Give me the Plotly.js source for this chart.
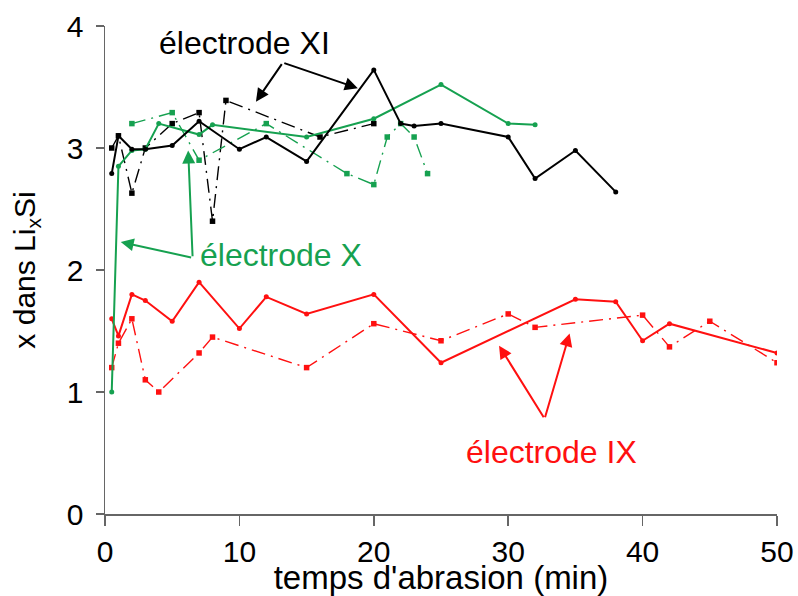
<!DOCTYPE html>
<html>
<head>
<meta charset="utf-8">
<script src="https://cdn.plot.ly/plotly-3.0.1.min.js"></script>
<style>html,body{margin:0;padding:0;background:#fff;}#chart{width:798px;height:596px;}</style>
</head>
<body>
<div id="chart"></div>
<script>
// Électrode XI (noir)
const xiSolidX = [0.5, 1, 2, 3, 5, 7, 10, 12, 15, 20, 22, 23, 25, 30, 32, 35, 38];
const xiSolidY = [2.79, 3.10, 2.99, 2.99, 3.02, 3.22, 2.99, 3.09, 2.89, 3.64, 3.20, 3.18, 3.20, 3.09, 2.75, 2.98, 2.64];
const xiDashX = [0.5, 1, 2, 3, 5, 7, 8, 9, 16, 20];
const xiDashY = [3.00, 3.10, 2.63, 3.00, 3.20, 3.29, 2.40, 3.39, 3.09, 3.20];
// Électrode X (vert)
const xSolidX = [0.5, 1, 2, 3, 4, 7, 8, 15, 20, 25, 30, 32];
const xSolidY = [1.00, 2.85, 2.98, 2.99, 3.20, 3.11, 3.19, 3.09, 3.24, 3.52, 3.20, 3.19];
const xDashX = [2, 5, 7, 12, 18, 20, 21, 22, 23, 24];
const xDashY = [3.20, 3.29, 2.90, 3.20, 2.79, 2.70, 3.09, 3.20, 3.09, 2.79];
// Électrode IX (rouge)
const ixSolidX = [0.5, 1, 2, 3, 5, 7, 10, 12, 15, 20, 25, 35, 38, 40, 42, 50];
const ixSolidY = [1.60, 1.46, 1.80, 1.75, 1.58, 1.90, 1.52, 1.78, 1.64, 1.80, 1.24, 1.76, 1.74, 1.42, 1.56, 1.32];
const ixDashX = [0.5, 1, 2, 3, 4, 7, 8, 15, 20, 25, 30, 32, 40, 42, 45, 50];
const ixDashY = [1.20, 1.40, 1.60, 1.10, 1.00, 1.32, 1.45, 1.20, 1.56, 1.42, 1.64, 1.53, 1.63, 1.37, 1.58, 1.24];

const xTicks = [0, 10, 20, 30, 40, 50];
const yTicks = [0, 1, 2, 3, 4];

const BLACK = '#000000';
const GREEN = '#16a150';
const RED = '#ff1010';
const DASH = '14px,6px,2px,6px';

function solid(x, y, c) {
  return {x: x, y: y, type: 'scatter', mode: 'lines+markers',
    line: {color: c, width: 2}, marker: {color: c, size: 5, symbol: 'circle'},
    hoverinfo: 'skip', showlegend: false};
}
function dashed(x, y, c) {
  return {x: x, y: y, type: 'scatter', mode: 'lines+markers',
    line: {color: c, width: 1.4, dash: DASH}, marker: {color: c, size: 5.5, symbol: 'square'},
    hoverinfo: 'skip', showlegend: false};
}

const data = [
  dashed(xiDashX, xiDashY, BLACK),
  dashed(xDashX, xDashY, GREEN),
  dashed(ixDashX, ixDashY, RED),
  solid(ixSolidX, ixSolidY, RED),
  solid(xSolidX, xSolidY, GREEN),
  solid(xiSolidX, xiSolidY, BLACK)
];

const FONT = 'Liberation Sans, Arial, sans-serif';
function label(txt, x, y, c) {
  return {text: txt, x: x, y: y, xref: 'x', yref: 'y', showarrow: false,
    font: {family: FONT, size: 32, color: c}, xanchor: 'center', yanchor: 'middle'};
}
function arrow(x, y, ax, ay, c) {
  return {text: '', x: x, y: y, ax: ax, ay: ay, xref: 'x', yref: 'y', axref: 'x', ayref: 'y',
    showarrow: true, arrowhead: 2, arrowsize: 1.3, arrowwidth: 2, arrowcolor: c};
}

const annotations = [
  label('électrode XI', 10.4, 3.86, BLACK),
  arrow(11.23, 3.38, 13.23, 3.70, BLACK),
  arrow(18.81, 3.49, 13.23, 3.70, BLACK),
  label('électrode X', 13.1, 2.12, GREEN),
  arrow(1.17, 2.23, 6.52, 2.10, GREEN),
  arrow(6.19, 2.98, 6.52, 2.10, GREEN),
  label('électrode IX', 33.2, 0.51, RED),
  arrow(29.32, 1.38, 32.71, 0.78, RED),
  arrow(34.57, 1.48, 32.71, 0.78, RED)
];

const layout = {
  width: 798, height: 596,
  margin: {l: 105, r: 21, t: 26, b: 82},
  paper_bgcolor: '#fff', plot_bgcolor: '#fff',
  font: {family: FONT, color: '#000'},
  showlegend: false,
  xaxis: {range: [0, 50], tickvals: xTicks, ticktext: xTicks.map(String),
    showgrid: false, zeroline: false, showline: true, linecolor: '#666', linewidth: 1.5,
    ticks: 'outside', ticklen: 10, tickcolor: '#666', tickwidth: 1.5, ticklabelstandoff: 0,
    tickfont: {family: FONT, size: 30, color: '#000'},
    title: {text: "temps d'abrasion (min)", font: {family: FONT, size: 33, color: '#000'}, standoff: 0}},
  yaxis: {range: [0, 4], tickvals: yTicks, ticktext: yTicks.map(String),
    showgrid: false, zeroline: false, showline: true, linecolor: '#666', linewidth: 1.5,
    ticks: 'outside', ticklen: 8, tickcolor: '#666', tickwidth: 1.5, ticklabelstandoff: 6,
    tickfont: {family: FONT, size: 30, color: '#000'},
    title: {text: 'x dans Li<sub>x</sub>Si', font: {family: FONT, size: 30, color: '#000'}, standoff: 22}},
  annotations: annotations
};

Plotly.newPlot('chart', data, layout, {displayModeBar: false, staticPlot: true});
</script>
</body>
</html>
